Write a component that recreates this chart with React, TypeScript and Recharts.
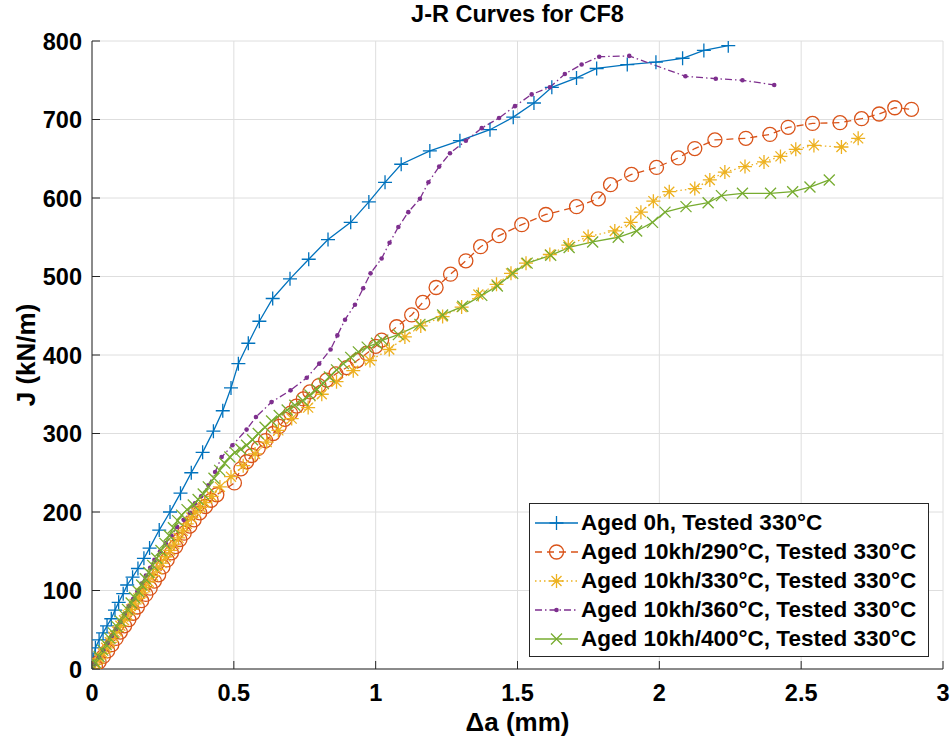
import React from 'react';
import { ComposedChart, Line, XAxis, YAxis, CartesianGrid, Legend } from 'recharts';

const FONT = "'Liberation Sans', Arial, Helvetica, sans-serif";
const AX = '#262626';

const xTicks = [0, 0.5, 1, 1.5, 2, 2.5, 3];
const yTicks = [0, 100, 200, 300, 400, 500, 600, 700, 800];

const seriesNames = [
  'Aged 0h, Tested 330°C',
  'Aged 10kh/290°C, Tested 330°C',
  'Aged 10kh/330°C, Tested 330°C',
  'Aged 10kh/360°C, Tested 330°C',
  'Aged 10kh/400°C, Tested 330°C',
];
const seriesColors = ['#0072BD', '#D95319', '#EDB120', '#7E2F8E', '#77AC30'];

// Aged 0h
const a0h = [0, 0.004, 0.012, 0.025, 0.039, 0.053, 0.068, 0.081, 0.094, 0.11, 0.124, 0.143, 0.162, 0.183, 0.203, 0.237, 0.275, 0.312, 0.35, 0.39, 0.428, 0.461, 0.49, 0.516, 0.551, 0.59, 0.637, 0.698, 0.764, 0.832, 0.912, 0.976, 1.033, 1.09, 1.191, 1.297, 1.403, 1.485, 1.558, 1.621, 1.708, 1.779, 1.887, 1.988, 2.082, 2.157, 2.243];
const j0h = [0, 12, 27, 37, 46, 55, 64, 75, 85, 96, 107, 117, 128, 141, 154, 177, 200, 224, 250, 276, 303, 329, 358, 389, 415, 443, 472, 497, 522, 547, 569, 595, 620, 643, 660, 673, 687, 703, 721, 741, 753, 765, 770, 773, 778, 788, 794];

// Aged 10kh/290°C
const a290 = [0, 0.012, 0.025, 0.04, 0.055, 0.07, 0.085, 0.1, 0.115, 0.13, 0.145, 0.16, 0.175, 0.19, 0.205, 0.22, 0.235, 0.25, 0.265, 0.28, 0.295, 0.31, 0.325, 0.345, 0.36, 0.38, 0.4, 0.42, 0.44, 0.502, 0.525, 0.545, 0.563, 0.586, 0.612, 0.639, 0.66, 0.68, 0.7, 0.721, 0.745, 0.768, 0.8, 0.827, 0.86, 0.898, 0.935, 0.968, 1.0, 1.021, 1.074, 1.127, 1.166, 1.213, 1.264, 1.318, 1.37, 1.435, 1.515, 1.6, 1.708, 1.785, 1.828, 1.902, 1.99, 2.067, 2.125, 2.196, 2.305, 2.39, 2.454, 2.54, 2.637, 2.713, 2.775, 2.83, 2.889];
const j290 = [0, 4, 9, 16, 23, 31, 39, 47, 55, 63, 71, 79, 87, 95, 103, 112, 120, 130, 139, 148, 156, 165, 173, 182, 190, 199, 207, 215, 222, 237, 255, 264, 272, 281, 291, 300, 309, 318, 326, 335, 344, 353, 361, 368, 376, 384, 393, 402, 411, 419, 436, 451, 467, 486, 503, 520, 538, 552, 566, 579, 589, 599, 617, 630, 639, 651, 663, 674, 676, 681, 690, 695, 696, 701, 707, 715, 713];

// Aged 10kh/330°C
const a330 = [0, 0.012, 0.025, 0.038, 0.05, 0.063, 0.075, 0.088, 0.1, 0.113, 0.125, 0.138, 0.15, 0.163, 0.175, 0.188, 0.2, 0.215, 0.23, 0.245, 0.26, 0.275, 0.29, 0.305, 0.32, 0.334, 0.35, 0.366, 0.382, 0.398, 0.422, 0.451, 0.49, 0.533, 0.575, 0.616, 0.657, 0.704, 0.762, 0.81, 0.862, 0.921, 0.98, 1.048, 1.103, 1.159, 1.236, 1.303, 1.362, 1.426, 1.477, 1.53, 1.614, 1.679, 1.749, 1.843, 1.899, 1.935, 1.979, 2.035, 2.125, 2.178, 2.231, 2.302, 2.369, 2.427, 2.481, 2.545, 2.642, 2.701];
const j330 = [0, 6, 13, 20, 27, 34, 41, 48, 55, 62, 69, 76, 83, 90, 97, 104, 111, 119, 127, 135, 143, 151, 159, 167, 176, 185, 193, 200, 206, 212, 220, 232, 245, 259, 274, 289, 304, 319, 333, 350, 366, 380, 393, 407, 423, 437, 449, 461, 477, 490, 504, 517, 528, 540, 551, 558, 569, 582, 596, 608, 612, 623, 633, 640, 646, 653, 662, 667, 665, 676];

// Aged 10kh/360°C
const a360 = [0, 0.01, 0.025, 0.04, 0.055, 0.07, 0.085, 0.1, 0.115, 0.13, 0.145, 0.16, 0.175, 0.19, 0.205, 0.22, 0.24, 0.26, 0.28, 0.3, 0.323, 0.345, 0.363, 0.385, 0.41, 0.434, 0.457, 0.495, 0.545, 0.578, 0.633, 0.7, 0.757, 0.801, 0.841, 0.865, 0.892, 0.927, 0.956, 0.982, 1.021, 1.049, 1.08, 1.115, 1.156, 1.186, 1.224, 1.262, 1.318, 1.374, 1.435, 1.491, 1.55, 1.614, 1.667, 1.726, 1.788, 1.894, 2.092, 2.199, 2.293, 2.405];
const j360 = [0, 6, 15, 24, 33, 42, 51, 60, 70, 80, 89, 99, 109, 119, 129, 139, 150, 160, 170, 181, 190, 199, 211, 220, 234, 251, 270, 285, 305, 321, 340, 355, 371, 389, 407, 425, 445, 464, 485, 504, 523, 543, 563, 582, 599, 620, 640, 657, 673, 689, 702, 717, 732, 741, 758, 770, 780, 781, 755, 752, 750, 744];

// Aged 10kh/400°C
const a400 = [0, 0.012, 0.025, 0.038, 0.05, 0.063, 0.075, 0.088, 0.1, 0.113, 0.125, 0.138, 0.15, 0.163, 0.175, 0.188, 0.2, 0.214, 0.228, 0.243, 0.257, 0.272, 0.287, 0.302, 0.316, 0.335, 0.357, 0.374, 0.392, 0.41, 0.43, 0.45, 0.468, 0.486, 0.504, 0.525, 0.545, 0.566, 0.586, 0.61, 0.633, 0.66, 0.688, 0.715, 0.743, 0.768, 0.792, 0.815, 0.837, 0.862, 0.886, 0.912, 0.939, 0.97, 1.003, 1.025, 1.08, 1.156, 1.236, 1.307, 1.374, 1.429, 1.483, 1.534, 1.617, 1.682, 1.765, 1.855, 1.92, 1.976, 2.02, 2.094, 2.172, 2.219, 2.293, 2.392, 2.47, 2.531, 2.599];
const j400 = [0, 8, 16, 24, 31, 39, 46, 54, 61, 69, 76, 84, 91, 99, 107, 115, 123, 132, 141, 151, 160, 170, 180, 189, 196, 203, 209, 216, 223, 232, 243, 253, 262, 270, 276, 280, 285, 292, 300, 308, 316, 323, 330, 336, 342, 349, 356, 364, 372, 381, 389, 397, 404, 410, 415, 419, 426, 439, 451, 462, 476, 488, 504, 517, 527, 537, 544, 550, 558, 569, 582, 589, 594, 603, 606, 606, 608, 614, 623];

const zip = (a: number[], j: number[]) => a.map((v, i) => ({ a: v, J: j[i] }));
const seriesData = [zip(a0h, j0h), zip(a290, j290), zip(a330, j330), zip(a360, j360), zip(a400, j400)];
const markers = ['plus', 'circle', 'star', 'point', 'cross'];
const dashes = [undefined, '7 5', '1.5 3', '7 3 1.5 3', undefined];

function marker(kind: string, cx: number, cy: number, color: string, key?: any) {
  const sw = 1.3;
  if (kind === 'plus') {
    const s = 7;
    return <path key={key} d={`M${cx - s},${cy}H${cx + s}M${cx},${cy - s}V${cy + s}`} stroke={color} strokeWidth={sw} fill="none" />;
  }
  if (kind === 'circle') {
    return <circle key={key} cx={cx} cy={cy} r={7} stroke={color} strokeWidth={sw} fill="none" />;
  }
  if (kind === 'star') {
    const s = 7, d = 5;
    return <path key={key} d={`M${cx - s},${cy}H${cx + s}M${cx},${cy - s}V${cy + s}M${cx - d},${cy - d}L${cx + d},${cy + d}M${cx - d},${cy + d}L${cx + d},${cy - d}`} stroke={color} strokeWidth={sw} fill="none" />;
  }
  if (kind === 'point') {
    return <circle key={key} cx={cx} cy={cy} r={2.3} fill={color} stroke="none" />;
  }
  const s = 5.5;
  return <path key={key} d={`M${cx - s},${cy - s}L${cx + s},${cy + s}M${cx - s},${cy + s}L${cx + s},${cy - s}`} stroke={color} strokeWidth={sw} fill="none" />;
}

const makeDot = (kind: string, color: string) => (props: any) => {
  const { cx, cy, index } = props;
  if (cx == null || cy == null) return <g key={`n${index}`} />;
  return marker(kind, cx, cy, color, `m${index}`);
};

const TICK_FS = 23.5;

const XTick = (props: any) => {
  const { x, y, payload } = props;
  return (
    <g>
      <line x1={x} x2={x} y1={y} y2={y - 8} stroke={AX} strokeWidth={1} />
      <text x={x} y={y + 32} textAnchor="middle" fontFamily={FONT} fontWeight="bold" fontSize={TICK_FS} fill="#000">{payload.value}</text>
    </g>
  );
};
const YTick = (props: any) => {
  const { x, y, payload } = props;
  return (
    <g>
      <line x1={x} x2={x + 8} y1={y} y2={y} stroke={AX} strokeWidth={1} />
      <text x={x - 10} y={y + 8.5} textAnchor="end" fontFamily={FONT} fontWeight="bold" fontSize={TICK_FS} fill="#000">{payload.value}</text>
    </g>
  );
};
const TopTick = (props: any) => {
  const { x, y } = props;
  return <line x1={x} x2={x} y1={y} y2={y + 8} stroke={AX} strokeWidth={1} />;
};
const RightTick = (props: any) => {
  const { x, y } = props;
  return <line x1={x} x2={x - 8} y1={y} y2={y} stroke={AX} strokeWidth={1} />;
};

const LegendBox = () => (
  <div style={{ border: `1px solid ${AX}`, background: '#fff', width: 398, height: 148, paddingTop: 4, boxSizing: 'content-box' }}>
    {seriesNames.map((n, i) => (
      <div key={n} style={{ display: 'flex', alignItems: 'center', height: 29 }}>
        <svg width={48} height={20} style={{ marginLeft: 3, flex: 'none' }}>
          <line x1={2} x2={45} y1={10} y2={10} stroke={seriesColors[i]} strokeWidth={1.3} strokeDasharray={dashes[i]} />
          {marker(markers[i], 23.5, 10, seriesColors[i])}
        </svg>
        <span style={{ fontFamily: FONT, fontWeight: 'bold', fontSize: 22.5, color: '#000', whiteSpace: 'nowrap', lineHeight: '29px' }}>{n}</span>
      </div>
    ))}
  </div>
);

export default function App() {
  return (
    <div style={{ position: 'relative', width: 950, height: 748, background: '#fff' }}>
      <style>{`body{margin:0;background:#fff}`}</style>
      <div style={{ position: 'absolute', left: 92, width: 851, top: 1, textAlign: 'center', fontFamily: FONT, fontWeight: 'bold', fontSize: 23.5, color: '#000', zIndex: 2 }}>
        J-R Curves for CF8
      </div>
      <ComposedChart width={950} height={748} margin={{ top: 41, right: 7, bottom: 0, left: 12 }}>
        <CartesianGrid stroke="#dedede" strokeWidth={1} />
        <XAxis
          dataKey="a"
          type="number"
          domain={[0, 3]}
          ticks={xTicks}
          allowDataOverflow
          height={79}
          tickSize={0}
          tickMargin={0}
          tick={<XTick />}
          tickLine={false}
          axisLine={{ stroke: AX, strokeWidth: 1 }}
          label={(p: any) => {
            const vb = p.viewBox;
            return <text x={vb.x + vb.width / 2} y={vb.y + 62} textAnchor="middle" fontFamily={FONT} fontWeight="bold" fontSize={26} fill="#000">Δa (mm)</text>;
          }}
        />
        <XAxis xAxisId="top" orientation="top" dataKey="a" type="number" domain={[0, 3]} ticks={xTicks} height={0} tickSize={0} tickMargin={0} tick={<TopTick />} tickLine={false} axisLine={{ stroke: AX, strokeWidth: 1 }} allowDataOverflow />
        <YAxis
          type="number"
          domain={[0, 800]}
          ticks={yTicks}
          allowDataOverflow
          width={80}
          tickSize={0}
          tickMargin={0}
          tick={<YTick />}
          tickLine={false}
          axisLine={{ stroke: AX, strokeWidth: 1 }}
          label={(p: any) => {
            const vb = p.viewBox;
            const cx = vb.x + 23;
            const cy = vb.y + vb.height / 2;
            return <text x={cx} y={cy} transform={`rotate(-90 ${cx} ${cy})`} textAnchor="middle" fontFamily={FONT} fontWeight="bold" fontSize={26} fill="#000">J (kN/m)</text>;
          }}
        />
        <YAxis yAxisId="right" orientation="right" type="number" domain={[0, 800]} ticks={yTicks} width={0} tickSize={0} tickMargin={0} tick={<RightTick />} tickLine={false} axisLine={{ stroke: AX, strokeWidth: 1 }} allowDataOverflow />
        {seriesData.map((d, i) => (
          <Line
            key={seriesNames[i]}
            data={d}
            dataKey="J"
            name={seriesNames[i]}
            type="linear"
            stroke={seriesColors[i]}
            strokeWidth={1.3}
            strokeDasharray={dashes[i]}
            dot={makeDot(markers[i], seriesColors[i])}
            activeDot={false}
            isAnimationActive={false}
          />
        ))}
        <Legend
          layout="vertical"
          align="center"
          verticalAlign="middle"
          content={<LegendBox />}
          wrapperStyle={{ left: 529, top: 503, width: 400, height: 152 }}
        />
      </ComposedChart>
    </div>
  );
}
